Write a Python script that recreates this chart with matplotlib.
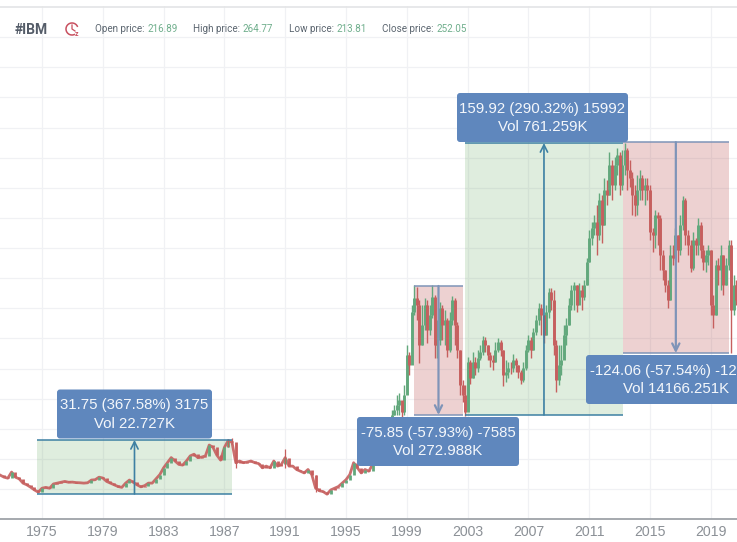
import matplotlib
matplotlib.use('Agg')
import matplotlib.pyplot as plt
import numpy as np
from matplotlib.patches import Arc, FancyBboxPatch, Rectangle

# quarterly closes 1972.25 - 1996.75
early_close = [
    19.7, 18.5, 17.9, 21.5, 18.5, 17.5, 15, 14, 12.6, 11, 9.7, 12, 12.5, 12, 14.5, 15, 15.5, 16, 15.5, 15.6,
    15.3, 15.2, 15, 15.2, 16.8, 17, 18.5, 18, 16, 15, 14, 13, 12.5, 15, 16.8, 15.5, 14, 12.8, 13.5, 15,
    15, 17.5, 20, 24, 27, 30, 28, 26, 25.6, 28, 31, 32, 30, 30.3, 31, 37.4, 36, 31.5, 28.5, 36,
    40, 39, 27, 28, 27, 27.4, 28, 27, 26.5, 24, 25, 24, 28, 25, 26, 30, 25, 25, 23, 22,
    21, 23, 20, 12, 10.5, 10, 8.5, 11, 12, 13, 15, 17, 20, 27, 24, 21, 23, 22, 26,
]
# wicks that stick out of the thick early line
early_spike_idx = [60, 61, 62, 75, 83]
early_spike_high = [41, 41.5, 38, 35, 20]
early_spike_low = [36, 38, 23.8, 24, 10]

# two-monthly candles from 1997.0
late_close = [
    40.4, 43.3, 46.3, 49.2, 52.1, 52.1, 55, 58, 61, 63.9, 56.8, 66.8, 90.4, 84.5, 115.6, 123.9, 119.8, 96.2, 108, 119.8,
    105, 113.9, 124.5, 96.2, 99.2, 118, 108, 111, 93.3, 111, 122.7, 108, 93.3, 72.7, 66.8, 56.8, 86.2, 76.8, 86.2, 82.7,
    88.6, 92.1, 99.2, 96.2, 90.4, 87.4, 86.2, 93.3, 98, 93.3, 78.6, 80.4, 82.7, 82.7, 87.4, 84.5, 80.4, 75.7, 82.7, 93.3,
    99.2, 93.3, 103.9, 111, 118, 113.9, 102.1, 115.6, 127.4, 122.7, 96.2, 75.7, 84.5, 87.4, 102.1, 108, 119.8, 128.6, 131.5, 119.8,
    128.6, 124.5, 131.5, 145, 159.2, 165, 168.6, 160.9, 181.5, 166.8, 187.4, 184.4, 202, 190.3, 202, 208, 190.3, 202, 210.9, 199.1,
    194.4, 184.4, 178.6, 187.4, 194.4, 187.4, 190.3, 187.4, 162.7, 160.9, 172.7, 170.9, 149.2, 140.3, 131.5, 122.7, 149.2, 147.4, 160.9, 152.1,
    166.8, 181.5, 160.9, 155, 141.5, 158, 155, 166.8, 152.1, 145, 149.2, 152.1, 119.8, 113.9, 143.3, 140.3, 149.2, 131.5, 143.3, 155,
    116.8, 131.5, 122.7, 125.6,
]
late_high = [
    42, 45, 48, 51, 54, 54, 58, 61, 66.8, 68, 61, 72.7, 96.2, 92.1, 119.8, 131.5, 130.4, 122.7, 119.8, 123.9,
    122.7, 119.8, 131.5, 125.6, 111, 121.5, 119.8, 116.8, 112.1, 115.6, 125, 123.9, 109.8, 93.3, 75.7, 72.7, 89.2, 87.4, 92.1, 89.2,
    93.3, 96.2, 101.5, 101, 96.2, 92.1, 90.4, 98, 100.4, 99.2, 93.3, 87.4, 86.2, 86.2, 91, 88.6, 84.5, 81.5, 86.2, 96.2,
    102.1, 101, 106.2, 113.9, 120.9, 120.3, 113.9, 119.8, 129.8, 129.8, 128.6, 99.2, 96.2, 96.2, 108, 112.1, 123.9, 131.5, 133.3, 131.5,
    132.7, 131.5, 134.5, 147.4, 163.9, 168.6, 172.7, 178.6, 185.6, 184.4, 194.4, 193.2, 209.7, 205, 206.8, 212.1, 209.7, 210.9, 215, 212.1,
    205, 198, 190.3, 196.2, 199.1, 196.2, 194.4, 194.4, 190.3, 165, 175.6, 174.4, 172.7, 152.1, 140.3, 134.5, 155, 155, 165, 160.9,
    172.7, 183.9, 182.7, 163.9, 158, 162.7, 159.2, 170.9, 168.6, 155, 152.1, 155, 152.1, 125.6, 146.2, 147.4, 155, 149.2, 147.4, 158,
    158, 137.4, 134.5, 131.5,
]
late_low = [
    38.7, 41.5, 44.5, 47.4, 50.4, 50.4, 52.1, 55, 55, 55, 53.9, 55, 72.7, 78.6, 96.2, 113.9, 111, 85.7, 96.2, 105,
    97.4, 102.1, 112.1, 88.6, 88.6, 96.2, 99.2, 96.2, 89.2, 92.1, 108, 96.2, 88.6, 66.8, 62.7, 54.5, 69.8, 73.3, 76.8, 78.6,
    80.4, 87.4, 90.4, 92.1, 87.4, 83.3, 81.5, 86.2, 92.1, 89.8, 72.1, 74.5, 76.8, 79.2, 80.4, 80.4, 76.8, 73.3, 74.5, 81.5,
    92.1, 88.6, 93.3, 102.1, 108, 102.1, 97.4, 102.1, 112.1, 116.8, 90.4, 68.6, 72.7, 78.6, 90.4, 96.2, 108, 116.8, 116.8, 115.6,
    121.5, 116.8, 122.7, 131.5, 145, 155, 160.9, 149.2, 158, 156.2, 166.8, 178.6, 184.4, 181.5, 187.4, 196.2, 184.4, 187.4, 196.2, 187.4,
    189.1, 172.7, 172.1, 172.7, 181.5, 181.5, 178.6, 181.5, 158, 150.9, 153.3, 155, 140.3, 134.5, 127.4, 118, 122.7, 143.3, 146.2, 145,
    149.2, 163.9, 155, 149.2, 139.2, 140.3, 149.2, 149.2, 147.4, 140.3, 139.2, 143.3, 113.9, 106.2, 113.9, 131.5, 128.6, 125.6, 131.5, 140.3,
    91.5, 113.9, 119.8, 122.7,
]

# measuring tool ranges
range_start = [1974.67, 1999.47, 2002.85, 2013.2]
range_end = [1987.5, 2002.7, 2013.2, 2020.2]
range_from = [8.64, 130.93, 55.08, 215.5]
range_to = [40.39, 55.08, 215.0, 91.44]
range_labels = [
    '31.75 (367.58%) 3175\nVol 22.727K',
    '-75.85 (-57.93%) -7585\nVol 272.988K',
    '159.92 (290.32%) 15992\nVol 761.259K',
    '-124.06 (-57.54%) -12406\nVol 14166.251K',
]

year_ticks = [1975, 1979, 1983, 1987, 1991, 1995, 1999, 2003, 2007, 2011, 2015, 2019]
price_grid = [277.3, 259.6, 241.9, 224.1, 206.4, 188.7, 171, 153.3, 135.5, 117.8, 100.1, 82.4, 64.7, 46.9, 29.2, 11.5]

header_names = ['Open price:', 'High price:', 'Low price:', 'Close price:']
header_values = ['216.89', '264.77', '213.81', '252.05']

RED = '#c65f5e'
GREEN = '#62a87c'
W, H = 737, 542

fig = plt.figure(figsize=(W / 100, H / 100), dpi=100)
ax = fig.add_axes([0, (H - 519) / H, 1, 519 / H])
ax.set_xlim(1972.237, 2020.724)
ax.set_ylim(-6.1, 299.1)
for side in ['top', 'left', 'right']:
    ax.spines[side].set_visible(False)
ax.spines['bottom'].set_color('#9ea3a8')
ax.spines['bottom'].set_linewidth(1.3)
ax.set_xticks(year_ticks)
ax.set_xticklabels([str(y) for y in year_ticks], family='Liberation Sans', fontsize=10.2, color='#8b9096')
ax.set_yticks(price_grid)
ax.tick_params(axis='x', length=0, pad=4)
ax.tick_params(axis='y', length=0, labelleft=False)
ax.grid(color='#f0f1f4', lw=0.9)
ax.set_axisbelow(True)

# candles, each opens at the previous close
early_close = np.array(early_close)
early_years = 1972.25 + 0.25 * np.arange(len(early_close))
early_open = np.r_[early_close[0], early_close[:-1]]
# thick line keeps the early stretch joined up
ax.plot(early_years, early_close, color=RED, lw=2.0, alpha=0.9, zorder=2.9)
ax.vlines(early_years, early_open, early_close,
          colors=[GREEN if c > o + 1 else RED for o, c in zip(early_open, early_close)], lw=2.0, zorder=3)
ax.vlines(early_years[early_spike_idx], early_spike_low, early_spike_high, colors=RED, lw=0.9, zorder=3)

late_close = np.array(late_close)
late_high = np.array(late_high)
late_low = np.array(late_low)
late_years = 1997 + np.arange(len(late_close)) / 6
late_open = np.r_[early_close[-1], late_close[:-1]]
up = late_close > late_open
# red goes on top, it dominates the busy parts
for mask, color, z in [(up, GREEN, 3), (~up, RED, 3.1)]:
    ax.vlines(late_years[mask], late_low[mask], late_high[mask], colors=color, lw=1.0, zorder=z)
    ax.vlines(late_years[mask], late_open[mask], late_close[mask], colors=color, lw=2.1, zorder=z)

# ranges with arrow
for x0, x1, p0, p1 in zip(range_start, range_end, range_from, range_to):
    rising = p1 > p0
    fill = '#5fa55a' if rising else '#b84a4a'
    edge = '#3d80a3' if rising else '#7f94b8'
    ax.add_patch(Rectangle((x0, min(p0, p1)), x1 - x0, abs(p1 - p0), fc=fill, ec='none',
                           alpha=0.2 if rising else 0.25, zorder=2))
    ax.hlines([p0, p1], x0, x1, colors=edge, lw=1.1, zorder=4)
    mid = (x0 + x1) / 2
    ax.annotate('', xy=(mid, p1), xytext=(mid, p0), zorder=4,
                arrowprops=dict(arrowstyle='->', color=edge, lw=1.2 if rising else 1.6, shrinkA=0, shrinkB=0,
                                mutation_scale=13))

# pixel overlay for header and label boxes
over = fig.add_axes([0, 0, 1, 1], facecolor='none')
over.set_xlim(0, W)
over.set_ylim(H, 0)
over.axis('off')

over.add_patch(Rectangle((0, 0), W, 6, fc='white', ec='none'))
over.plot([0, W], [6.5, 6.5], color='#e3e4e6', lw=1.2)

boxes = [(57, 389.5, 155, 49), (357, 417, 162, 49), (457, 93, 171, 49), (586, 355, 180, 49)]
for (bx, by, bw, bh), label in zip(boxes, range_labels):
    over.add_patch(FancyBboxPatch((bx + 2, by + 2), bw - 4, bh - 4, boxstyle='round,pad=2,rounding_size=3',
                                  fc='#5f87bd', ec='none', zorder=6, clip_on=True))
    over.text(bx + bw / 2, by + bh / 2 + 0.5, label, ha='center', va='center', color='#f4f7fb', fontsize=10.8,
              family='Liberation Sans', linespacing=1.42, zorder=7, clip_on=True)

over.text(15, 29.5, '#IBM', fontsize=10, fontweight='bold', family='Roboto', color='#545c68', va='center')
# small clock icon
over.add_patch(Arc((72, 29), 12, 12, theta1=60, theta2=340, color='#c8505f', lw=1.1))
over.plot([72, 72, 75], [25, 29, 31], color='#c8505f', lw=0.9)
over.text(77, 34, 'z', fontsize=5, fontweight='bold', color='#c8505f', ha='center', va='center', family='Roboto')

for name, value, nx, vx in zip(header_names, header_values, [95, 193, 289, 382], [147.5, 243, 337, 437]):
    over.text(nx, 29.5, name, fontsize=7.1, family='Roboto', color='#5c6670', va='center')
    over.text(vx, 29.5, value, fontsize=7.1, family='Roboto', color='#6fae8c', va='center')

fig.savefig('out.png', dpi=100)
